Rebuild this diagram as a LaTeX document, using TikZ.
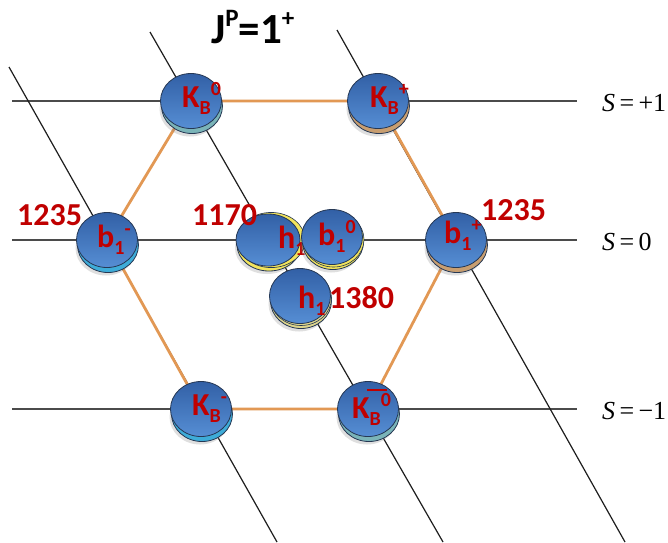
\documentclass[tikz,border=0pt]{standalone}
\usepackage{fontspec}
\usetikzlibrary{shapes.geometric,shadows}
\newfontfamily\calib{Carlito}
\newfontfamily\tms{Liberation Serif}
\definecolor{lblred}{RGB}{192,0,0}
\definecolor{orng}{RGB}{226,152,84}
\definecolor{balltop}{RGB}{50,96,166}
\definecolor{ballbot}{RGB}{86,142,212}
\definecolor{ballline}{RGB}{38,56,84}
\definecolor{rimteal}{RGB}{122,180,184}
\definecolor{rimtan}{RGB}{200,158,112}
\definecolor{rimcyan}{RGB}{62,172,216}
\definecolor{rimyellow}{RGB}{242,228,92}
\definecolor{rimpale}{RGB}{222,214,140}
\definecolor{axisgray}{RGB}{75,75,75}
\definecolor{gridline}{RGB}{30,30,30}

% particle label: main letter, subscript, superscript
\newcommand\plab[3]{{\fontsize{32}{32}\selectfont #1}%
  \raisebox{-7pt}{\fontsize{20}{20}\selectfont #2}%
  \raisebox{12pt}{\fontsize{20}{20}\selectfont #3}}

\tikzset{
  ball/.style={ellipse, inner sep=0pt, minimum width=61pt, minimum height=55pt,
    draw=ballline, line width=0.8pt, top color=balltop, bottom color=ballbot,
    drop shadow={shadow xshift=-1pt, shadow yshift=-8pt, opacity=0.25, fill=black!50},
    general shadow={fill=#1, draw=ballline, line width=0.8pt,
      shadow xshift=1pt, shadow yshift=-5pt}},
  lab/.style={inner sep=0pt, anchor=base west, text=lblred, font=\calib\bfseries},
  num/.style={lab, font=\calib\bfseries\fontsize{32}{32}\selectfont},
  slab/.style={inner sep=0pt, anchor=base west, font=\tms\fontsize{26}{26}\selectfont},
  axis/.style={draw=axisgray, line width=1.8pt},
  grid/.style={draw=gridline, line width=1.2pt},
  hexedge/.style={draw=orng, line width=2.8pt},
}

\begin{document}
\begin{tikzpicture}[x=1pt, y=-1pt]
\useasboundingbox[fill=white] (0,0) rectangle (668,542);

% multiplet positions
\coordinate (kb0)   at (191,101);
\coordinate (kbp)   at (378,101);
\coordinate (b1m)   at (107,240);
\coordinate (b1p)   at (456,240);
\coordinate (kbm)   at (201,409);
\coordinate (kbbar) at (368,409);
\coordinate (h1a)   at (268,240);
\coordinate (b10)   at (332,237);
\coordinate (h1b)   at (300,296);

% strangeness rows
\coordinate (sp0) at (12,101);  \coordinate (sp1) at (577,101);
\coordinate (sz0) at (12,240);  \coordinate (sz1) at (577,240);
\coordinate (sm0) at (12,409);  \coordinate (sm1) at (577,409);
\draw[axis] (sp0) -- (sp1);
\draw[axis] (sz0) -- (sz1);
\draw[axis] (sm0) -- (sm1);

% charge lines
\coordinate (qa0) at (9,67);    \coordinate (qa1) at (277,542);
\coordinate (qb0) at (150,32);  \coordinate (qb1) at (443,542);
\coordinate (qc0) at (337,30);  \coordinate (qc1) at (625,542);
\draw[grid] (qa0) -- (qa1);
\draw[grid] (qb0) -- (qb1);
\draw[grid] (qc0) -- (qc1);

% hexagon
\draw[hexedge] (kb0) -- (kbp) -- (b1p) -- (kbbar) -- (kbm) -- (b1m) -- cycle;

% outer states
\node[ball=rimteal] (nkb0)   at (kb0) {};
\node[ball=rimtan]  (nkbp)   at (kbp) {};
\node[ball=rimcyan] (nb1m)   at (b1m) {};
\node[ball=rimtan]  (nb1p)   at (b1p) {};
\node[ball=rimcyan] (nkbm)   at (kbm) {};
\node[ball=rimteal] (nkbbar) at (kbbar) {};

% central states
\node[ball=rimyellow, minimum width=64pt, minimum height=52pt,
  general shadow={fill=rimyellow, draw=ballline, line width=0.6pt,
    shadow xshift=3pt, shadow yshift=0pt, shadow scale=1.06}] (nh1a) at (h1a) {};
\node[lab] (th1a) at (278,248) {\plab{h}{1}{}};
\node[ball=rimyellow, general shadow={fill=rimyellow, draw=ballline, line width=0.6pt,
    shadow xshift=1.5pt, shadow yshift=-2.5pt}] (nb10) at (b10) {};
\node[ball=rimpale, general shadow={fill=rimpale, draw=ballline, line width=0.6pt,
    shadow xshift=1pt, shadow yshift=-2pt}] (nh1b) at (h1b) {};

% state labels
\node[lab] (tkb0)   at (182,107) {\plab{K}{B}{0}};
\node[lab] (tkbp)   at (370,107) {\plab{K}{B}{+}};
\node[lab] (tb1m)   at (97,247)  {\plab{b}{1}{-}};
\node[lab] (tb1p)   at (444,243) {\plab{b}{1}{+}};
\node[lab] (tb10)   at (318,245) {\plab{b}{1}{0}};
\node[lab] (th1b)   at (298,308) {\plab{h}{1}{}};
\node[lab] (tkbm)   at (192,415) {\plab{K}{B}{-}};
\node[lab] (tkbbar) at (352,418) {\plab{K}{B}{0}};
\draw[lblred, line width=2.6pt] (367,390) -- (387,390);

% masses
\node[num] (m1) at (17,225)  {1235};
\node[num] (m2) at (192,225) {1170};
\node[num] (m3) at (481,220) {1235};
\node[num] (m4) at (329,308) {1380};

% title
\node[inner sep=0pt, anchor=base west, font=\calib\bfseries] (title) at (211,43)
  {{\fontsize{43}{43}\selectfont J}\raisebox{17pt}{\fontsize{25}{25}\selectfont P}%
   {\fontsize{43}{43}\selectfont =1}\raisebox{17pt}{\fontsize{25}{25}\selectfont +}};

% strangeness labels
\node[slab] (s1) at (602,111) {\itshape S\upshape\,=\,+1};
\node[slab] (s2) at (602,250) {\itshape S\upshape\,=\,0};
\node[slab] (s3) at (602,419) {\itshape S\upshape\,=\,−1};
\end{tikzpicture}
\end{document}
